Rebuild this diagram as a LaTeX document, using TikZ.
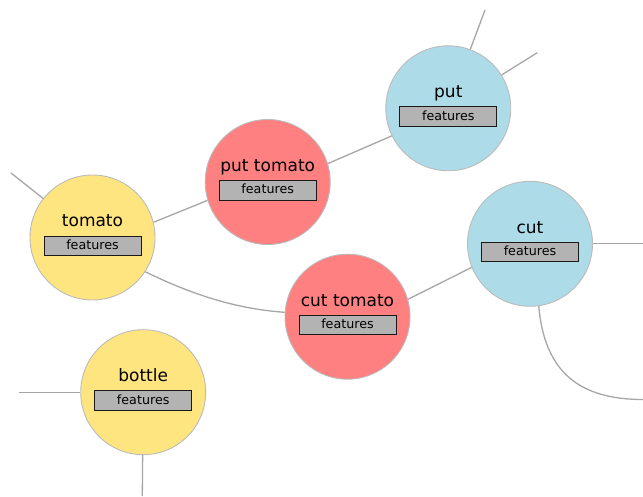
\documentclass[tikz,border=0pt]{standalone}
\usepackage{fontspec}
\setmainfont{DejaVu Sans}
\definecolor{objyellow}{HTML}{FFE580}
\definecolor{actred}{HTML}{FF8080}
\definecolor{verbblue}{HTML}{ADDBE8}
\definecolor{edgegray}{HTML}{A6A6A6}
\definecolor{rimgray}{HTML}{BBBBBB}
\definecolor{featgray}{HTML}{B3B3B3}
\tikzset{
  concept/.style={circle, draw=rimgray, line width=0.9pt, minimum size=125pt, inner sep=0pt},
  namelbl/.style={anchor=base, inner sep=0pt, font=\fontsize{17}{20}\selectfont},
  featbox/.style={rectangle, draw=black!90, fill=featgray, line width=1pt,
    minimum width=97pt, minimum height=19.5pt, inner sep=0pt,
    text height=9.6pt, text depth=2.4pt, font=\fontsize{12.7}{15}\selectfont},
  link/.style={draw=edgegray, line width=1.3pt}
}
% \conceptnode{name}{x}{y}{fill}{label}
\newcommand{\conceptnode}[5]{%
  \node[concept, fill=#4] (#1) at (#2,#3) {};
  \node[namelbl] (#1-name) at ([yshift=10.5pt]#1.center) {#5};
  \node[featbox] (#1-feat) at ([yshift=-8.3pt]#1.center) {features};
}
\begin{document}
\begin{tikzpicture}[x=1pt, y=1pt]
  \useasboundingbox (0,0) rectangle (643,496);

  \conceptnode{tomato}{92.5}{258.5}{objyellow}{tomato}
  \conceptnode{puttomato}{267.7}{314}{actred}{put tomato}
  \conceptnode{put}{448.3}{387.7}{verbblue}{put}
  \conceptnode{cut}{530}{252.2}{verbblue}{cut}
  \conceptnode{cuttomato}{347.5}{179.3}{actred}{cut tomato}
  \conceptnode{bottle}{143.2}{103.8}{objyellow}{bottle}

  % loose ends leading out of the frame
  \coordinate (tomato-out) at (11,323);
  \coordinate (put-up) at (485,486);
  \coordinate (put-right) at (537.3,443.3);
  \coordinate (cut-right) at (643,252.2);
  \coordinate (cut-down) at (643,96.5);
  \coordinate (bottle-left) at (19.3,103.8);
  \coordinate (bottle-down) at (142.3,0);

  % connections
  \path[link] (tomato.14.4) -- (puttomato.197.7);
  \path[link] (puttomato.17.8) -- (put.206.1);
  \path[link] (cuttomato.16.1) -- (cut.202.6);
  \path[link] (tomato.-33.8) .. controls +(-26:50) and +(176:50) .. (cuttomato.176.6);
  \path[link] (cut.-82.5) .. controls +(-85:65) and +(180:65) .. (cut-down);
  \path[link] (tomato) -- (tomato-out);
  \path[link] (put) -- (put-up);
  \path[link] (put) -- (put-right);
  \path[link] (cut.east) -- (cut-right);
  \path[link] (bottle.west) -- (bottle-left);
  \path[link] (bottle) -- (bottle-down);
\end{tikzpicture}
\end{document}
